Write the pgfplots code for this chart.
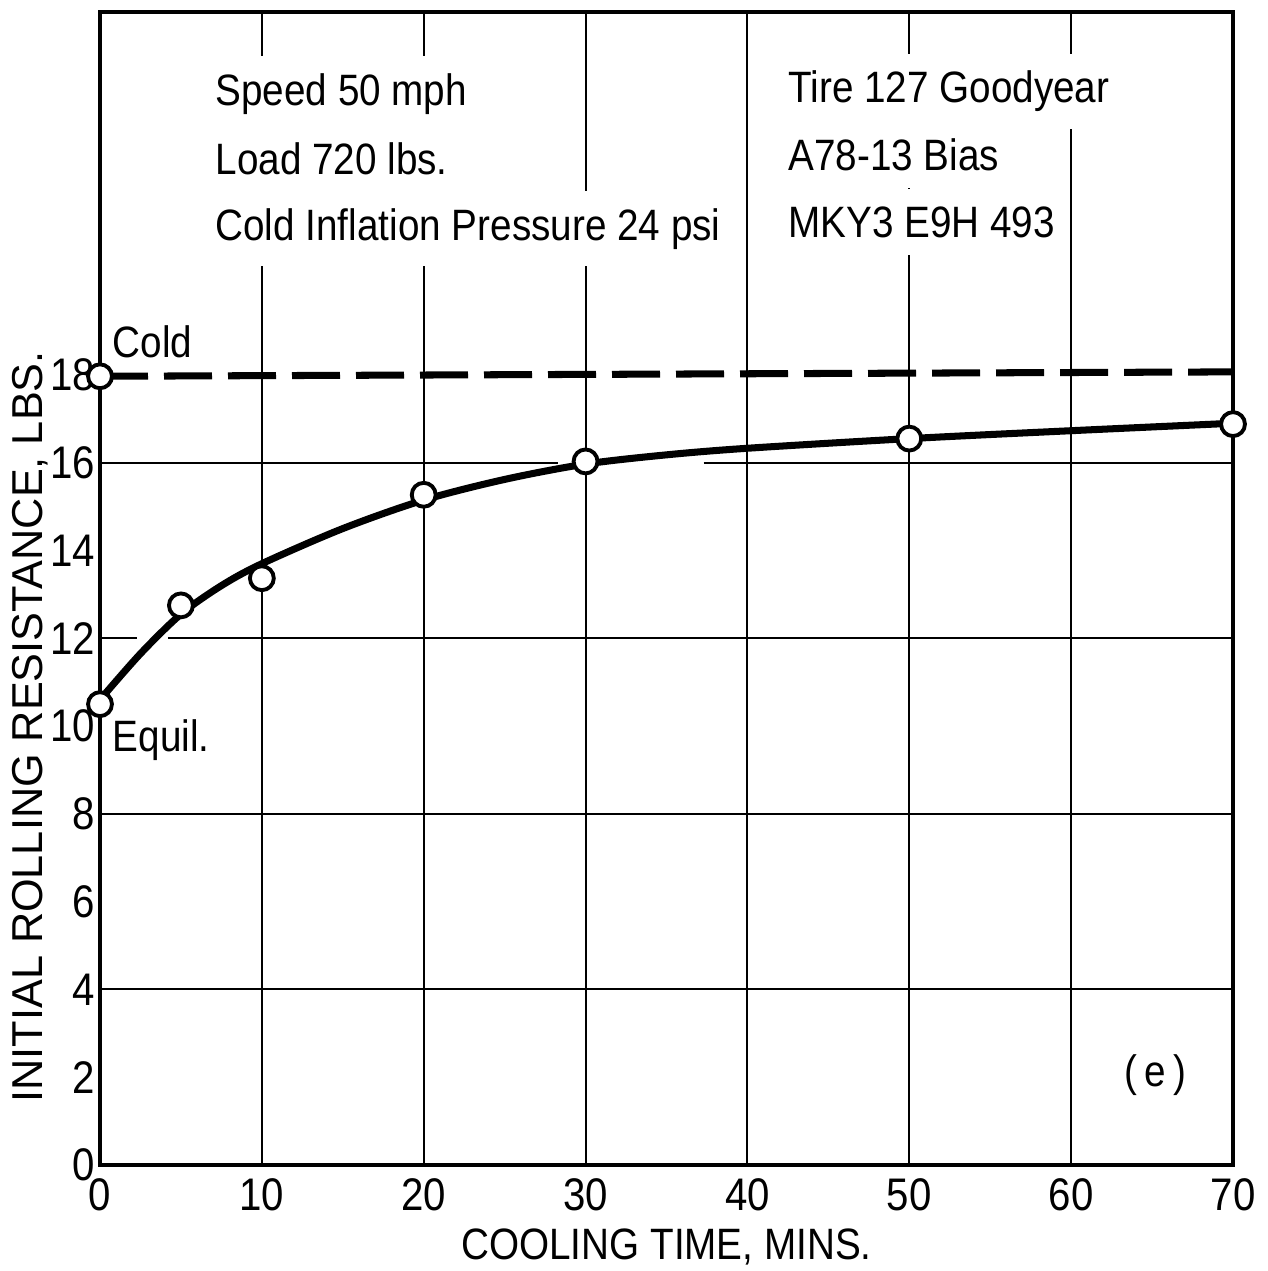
\documentclass[border=0pt]{standalone}
\usepackage{fontspec}
\setmainfont{Liberation Sans}
\newfontfamily\narrow{Liberation Sans}[FakeStretch=0.88]
\usepackage{pgfplots}
\pgfplotsset{compat=1.18}
\begin{document}
\begin{tikzpicture}
\begin{axis}[
  width=113.3mm, height=115.3mm, scale only axis,
  xmin=0, xmax=70, ymin=0, ymax=26.27,
  xtick={0,10,...,70}, ytick={0,2,...,18},
  major tick length=0pt,
  axis line style={line width=1.4pt},
  xmajorgrids=true,
  major grid style={line width=0.6pt, black},
  /pgf/number format/assume math mode=true,
  ticklabel style={font=\narrow\fontsize{13}{14}\selectfont},
  yticklabel style={inner sep=0pt, xshift=-0.4mm},
  xticklabel style={inner sep=0pt, yshift=-1.3mm},
  xlabel={COOLING TIME, MINS.},
  ylabel={INITIAL ROLLING RESISTANCE, LBS.},
  xlabel style={font=\narrow\fontsize{12.5}{14}\selectfont, inner sep=0pt, at={(axis description cs:0.5,-0.071)}, anchor=center},
  ylabel style={font=\fontsize{12.3}{14}\selectfont, inner sep=0pt, at={(axis description cs:-0.062,0.38)}, anchor=center, rotate=0},
  clip=false,
]
% horizontal grid lines
\draw[line width=0.6pt] (axis cs:0,4) -- (axis cs:70,4);
\draw[line width=0.6pt] (axis cs:0,8) -- (axis cs:70,8);
\draw[line width=0.6pt] (axis cs:0,12) -- (axis cs:2.3,12);
\draw[line width=0.6pt] (axis cs:4.2,12) -- (axis cs:70,12);
\draw[line width=0.6pt] (axis cs:0,16) -- (axis cs:28.3,16);
\draw[line width=0.6pt] (axis cs:37.3,16) -- (axis cs:70,16);

% text blocks
\begin{scope}[every node/.style={anchor=base west, fill=white, inner xsep=0.8mm, inner ysep=1.7mm, font=\narrow\fontsize{12.5}{14}\selectfont}]
\node at (axis cs:6.6,24.15) {Speed 50 mph};
\node at (axis cs:6.6,22.57) {Load 720 lbs.};
\node at (axis cs:6.6,21.07) {Cold Inflation Pressure 24 psi};
\node at (axis cs:42.0,24.2) {Tire 127 Goodyear};
\node at (axis cs:42.0,22.66) {A78-13 Bias};
\node at (axis cs:42.0,21.14) {MKY3 E9H 493};
\end{scope}

% cold reference (dashed)
\addplot[line width=2pt, dash pattern=on 4.8mm off 1.6mm] coordinates {(0,17.97) (70,18.07)};

% fitted curve
\addplot[smooth, line width=2pt] coordinates {
(0,10.6) (2.5,11.65) (5,12.55) (7.5,13.2) (10,13.7) (15,14.5) (20,15.15) (25,15.62)
(30,15.97) (35,16.18) (40,16.33) (50,16.55) (60,16.73) (70,16.9)};

% measured points
\addplot[only marks, mark=*, mark size=3.4pt, mark options={fill=white, draw=black, line width=1.1pt}] coordinates {
(0,10.5) (5,12.75) (10,13.37) (20,15.27) (30,16.03) (50,16.55) (70,16.88)};
\addplot[only marks, mark=*, mark size=3.4pt, mark options={fill=white, draw=black, line width=1.1pt}] coordinates {(0,17.97)};

\node[anchor=base west, inner sep=0pt, font=\narrow\fontsize{12.5}{14}\selectfont] at (axis cs:0.75,18.4) {Cold};
\node[anchor=base west, inner sep=0pt, font=\narrow\fontsize{12.5}{14}\selectfont] at (axis cs:0.75,9.41) {Equil.};
\node[anchor=center, inner sep=0pt, font=\narrow\fontsize{12.5}{14}\selectfont] at (axis cs:65.2,2.05) {(\,e\,)};
\end{axis}
\pgfresetboundingbox
\path (current axis.south west) ++(-10mm,-10.6mm) rectangle ++(126.7mm,127.1mm);
\end{tikzpicture}
\end{document}
